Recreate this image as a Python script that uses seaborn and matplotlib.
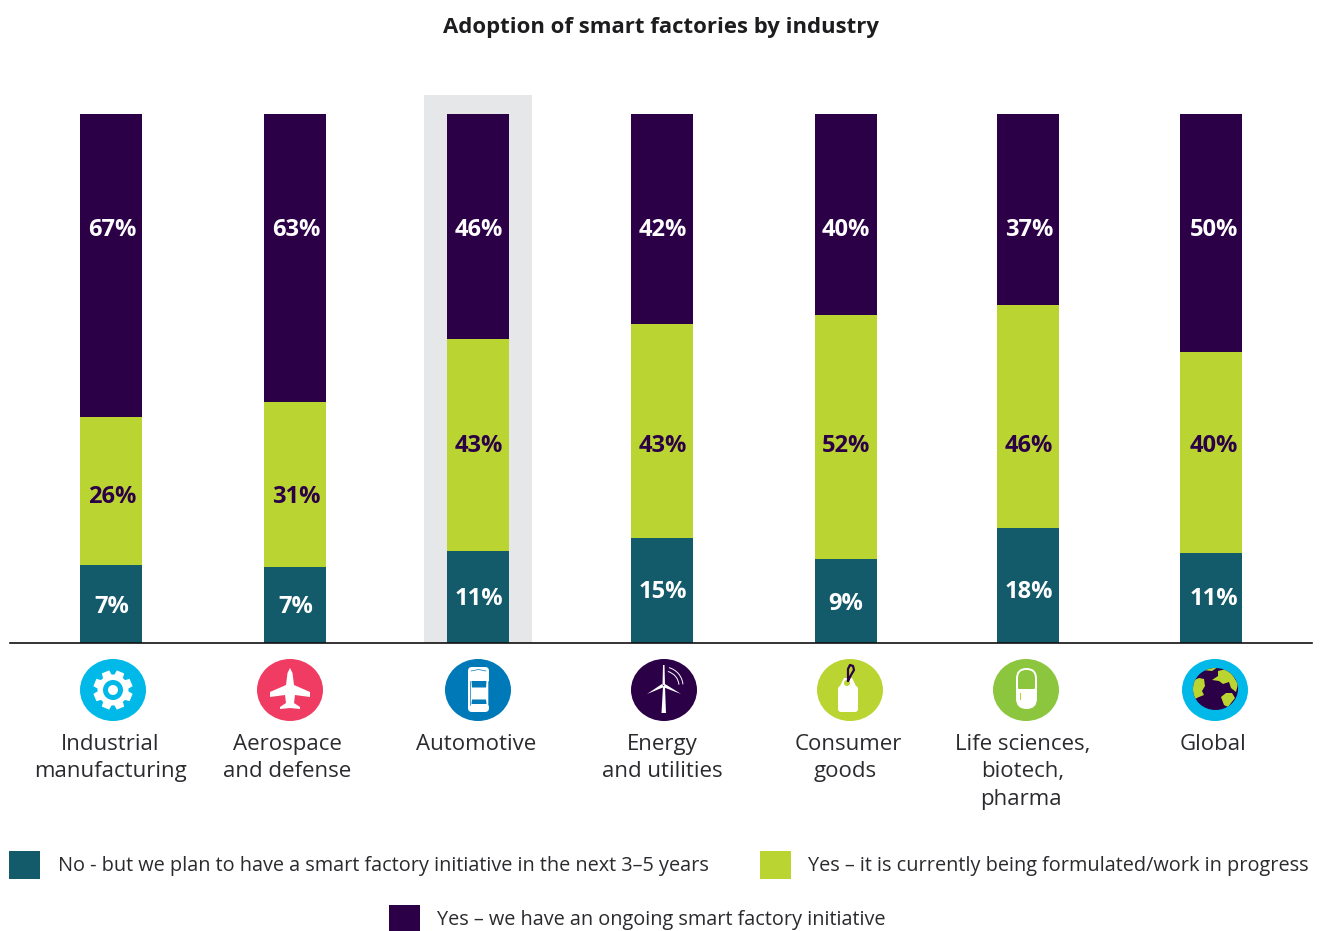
import matplotlib
matplotlib.use('Agg')
import numpy as np
import pandas as pd
import matplotlib.pyplot as plt
from matplotlib.patches import Circle, Ellipse, Polygon, Rectangle, FancyBboxPatch, Arc
import seaborn as sns

# industries and the three answers
industries = ['Industrial manufacturing', 'Aerospace and defense', 'Automotive', 'Energy and utilities',
              'Consumer goods', 'Life sciences, biotech, pharma', 'Global']
tick_lines = [['Industrial', 'manufacturing'], ['Aerospace', 'and defense'], ['Automotive'], ['Energy', 'and utilities'],
              ['Consumer', 'goods'], ['Life sciences,', 'biotech,', 'pharma'], ['Global']]

# printed percentages
no_labels = [7, 7, 11, 15, 9, 18, 11]
wip_labels = [26, 31, 43, 43, 52, 46, 40]
ongoing_labels = [67, 63, 46, 42, 40, 37, 50]

# drawn share of each bar, the original is not drawn to scale
no_drawn = [14.7, 14.4, 17.4, 19.8, 15.9, 21.7, 17.0]
wip_drawn = [28.0, 31.2, 40.1, 40.6, 46.1, 42.2, 38.0]
ongoing_drawn = [57.3, 54.4, 42.5, 39.6, 38.0, 36.1, 45.0]

legend_texts = ['No - but we plan to have a smart factory initiative in the next 3\u20135 years',
                'Yes \u2013 it is currently being formulated/work in progress',
                'Yes \u2013 we have an ongoing smart factory initiative']

TEAL = '#135a6b'
GREEN = '#bad532'
PURPLE = '#2c0047'
GREY = '#e6e7e8'
TEXT = '#2b2a2e'
FONT = ['Open Sans', 'DejaVu Sans']

sns.set_theme(style='white')
plt.rcParams['font.family'] = FONT

W, H = 1321, 931
fig = plt.figure(figsize=(W / 100, H / 100), dpi=100, facecolor='white')

# bars, x scale is image pixels since the spacing is uneven
bar_x = [111, 295, 478, 662, 846, 1028, 1211]
ax = fig.add_axes([10 / W, 1 - 643 / H, 1302 / W, 548 / H])
df = pd.DataFrame({'x': bar_x, 'industry': industries, 'no': no_drawn, 'wip': wip_drawn, 'ongoing': ongoing_drawn})
df['base2'] = df['no'] + df['wip']
bar_w = 62 / 182

ax.axvspan(424, 532, color=GREY, lw=0, zorder=0)
sns.barplot(data=df, x='x', y='no', color=TEAL, width=bar_w, native_scale=True, saturation=1, linewidth=0, ax=ax, zorder=2)
sns.barplot(data=df, x='x', y='wip', bottom=df['no'], color=GREEN, width=bar_w, native_scale=True, saturation=1, linewidth=0, ax=ax, zorder=2)
sns.barplot(data=df, x='x', y='ongoing', bottom=df['base2'], color=PURPLE, width=bar_w, native_scale=True, saturation=1, linewidth=0, ax=ax, zorder=2)

ax.set_xlim(10, 1312)
ax.set_ylim(0, 103.6)
ax.set_xlabel('')
ax.set_ylabel('')
ax.set_xticks([])
ax.set_yticks([])
ax.patch.set_alpha(0)
for s in ['top', 'left', 'right']:
    ax.spines[s].set_visible(False)
ax.spines['bottom'].set_color('#111111')
ax.spines['bottom'].set_linewidth(1.2)

# overlay in image pixels for text and icons
ov = fig.add_axes([0, 0, 1, 1])
ov.set_xlim(0, W)
ov.set_ylim(H, 0)
ov.axis('off')
ov.patch.set_alpha(0)

label_x = [112, 296, 479, 663, 846, 1029, 1214]
no_y = [607, 607, 599, 592, 604, 592, 599]
wip_y = [497, 497, 446, 446, 446, 446, 446]
ongoing_y = 230

for i in range(7):
    ov.text(label_x[i], ongoing_y, f'{ongoing_labels[i]}%', color='white', fontsize=17, fontweight='bold', ha='center', va='center')
    ov.text(label_x[i], wip_y[i], f'{wip_labels[i]}%', color=PURPLE, fontsize=17, fontweight='bold', ha='center', va='center')
    ov.text(label_x[i], no_y[i], f'{no_labels[i]}%', color='white', fontsize=17, fontweight='bold', ha='center', va='center')

ov.text(661, 27, 'Adoption of smart factories by industry', color='#1d1d1f', fontsize=15.9, fontweight='bold', ha='center', va='center')

# category names, line by line
name_x = [[110, 110], [287, 287], [476], [662, 662], [848, 845], [1023, 1023, 1021], [1213]]
name_y = [750, 777, 805]
for lines, xs in zip(tick_lines, name_x):
    for j, t in enumerate(lines):
        ov.text(xs[j], name_y[j], t, color=TEXT, fontsize=16, ha='center', va='baseline')

# legend
swatches = [(9, 851, 31, 28, TEAL), (760, 851, 31, 28, GREEN), (389, 905, 31, 26, PURPLE)]
legend_xy = [(58, 866), (808, 866), (437, 920)]
for (x, y, w, h, c), (tx, ty), t in zip(swatches, legend_xy, legend_texts):
    ov.add_patch(Rectangle((x, y), w, h, color=c, lw=0))
    ov.text(tx, ty, t, color=TEXT, fontsize=14.35, ha='left', va='center')


def disc(x, c):
    ov.add_patch(Ellipse((x, 690), 66, 62, color=c, lw=0))


# gear
cx, cy = 113, 690
disc(cx, '#00b9e8')
ang = np.linspace(0, 2 * np.pi, 8, endpoint=False) + np.pi / 8
pts = []
for a in ang:
    for d, r in [(-0.30, 15.5), (-0.20, 20), (0.20, 20), (0.30, 15.5)]:
        pts.append((cx + r * np.cos(a + d), cy + r * np.sin(a + d)))
ov.add_patch(Polygon(pts, closed=True, color='white', lw=0))
ov.add_patch(Circle((cx, cy), 10, color='#00b9e8', lw=0))
ov.add_patch(Circle((cx, cy), 5, color='white', lw=0))

# plane
cx = 290
disc(cx, '#f03c63')
plane = [(290, 668), (292.5, 673), (294, 685), (310, 692), (310, 697), (295, 695), (294, 703), (300, 707), (300, 709),
         (290, 708), (280, 709), (280, 707), (286, 703), (285, 695), (270, 697), (270, 692), (286, 685), (287.5, 673)]
ov.add_patch(Polygon(plane, closed=True, color='white', lw=0))

# car
cx = 478
disc(cx, '#0079b8')
ov.add_patch(FancyBboxPatch((468, 667), 21, 45, boxstyle='round,pad=0,rounding_size=4', fc='white', ec='none'))
ov.add_patch(Polygon([(471.5, 681), (486.5, 681), (486, 687.5), (472, 687.5)], closed=True, color='#0079b8', lw=0))
ov.add_patch(Polygon([(472, 699.5), (486, 699.5), (486.5, 704), (471.5, 704)], closed=True, color='#0079b8', lw=0))
ov.plot([470, 470], [681, 705], color='#0079b8', lw=0.5)
ov.plot([488, 488], [681, 705], color='#0079b8', lw=0.5)
ov.plot([471, 478.5, 486], [671, 669.5, 671], color='#0079b8', lw=0.5)

# wind turbine
cx = 664
disc(cx, PURPLE)
ov.add_patch(Polygon([(663, 687), (665, 687), (666, 713), (661.5, 713)], closed=True, color='white', lw=0))
ov.add_patch(Polygon([(663, 665), (664.5, 665), (665, 685), (662.5, 685)], closed=True, color='white', lw=0))
ov.add_patch(Polygon([(647, 694), (662, 684), (664, 687)], closed=True, color='white', lw=0))
ov.add_patch(Polygon([(681, 694), (665, 684), (663, 687)], closed=True, color='white', lw=0))
for r in [15, 19]:
    ov.add_patch(Arc((664, 686), 2 * r, 2 * r, theta1=-75, theta2=-5, color='white', lw=0.7))

# price tag
cx = 850
disc(cx, GREEN)
ov.add_patch(FancyBboxPatch((838, 686), 20, 26, boxstyle='round,pad=0,rounding_size=3', fc='white', ec='none'))
ov.add_patch(Polygon([(838, 690), (844, 678), (852, 678), (858, 690)], closed=True, color='white', lw=0))
ov.add_patch(Circle((847, 683), 3, color=GREEN, lw=0))
ov.plot([848, 851, 854, 853, 850, 848, 848], [681, 675, 670, 666, 665, 669, 681], color=PURPLE, lw=1.6)

# pill
cx = 1026
disc(cx, '#8cc63f')
ov.add_patch(FancyBboxPatch((1016, 668), 21, 41, boxstyle='round,pad=0,rounding_size=10.5', fc='white', ec='none'))
ov.add_patch(FancyBboxPatch((1018, 670), 17, 24, boxstyle='round,pad=0,rounding_size=8', fc='#8cc63f', ec='none'))
ov.add_patch(Rectangle((1016, 689), 21, 6, color='white', lw=0))
ov.add_patch(Rectangle((1019.5, 693), 1.5, 7, color=GREEN, lw=0))

# globe
cx = 1215
disc(cx, '#00b9e8')
earth = Ellipse((1215.5, 689), 45, 42, color=PURPLE, lw=0)
ov.add_patch(earth)
lands = [[(1192, 681), (1199, 678), (1204, 679), (1205, 686), (1202, 691), (1204, 695), (1199, 697), (1193, 700)],
         [(1212, 680), (1218, 676), (1218, 671), (1226, 669), (1232, 674), (1238, 684), (1236, 692), (1231, 688), (1229, 682), (1223, 684), (1219, 681)],
         [(1221, 697), (1226, 693), (1232, 693), (1235, 698), (1231, 703), (1228, 707), (1224, 705)],
         [(1203, 670), (1212, 667), (1218, 667), (1212, 671)]]
for land in lands:
    p = Polygon(land, closed=True, color=GREEN, lw=0)
    ov.add_patch(p)
    p.set_clip_path(earth)

plt.savefig('out.png', dpi=100)
